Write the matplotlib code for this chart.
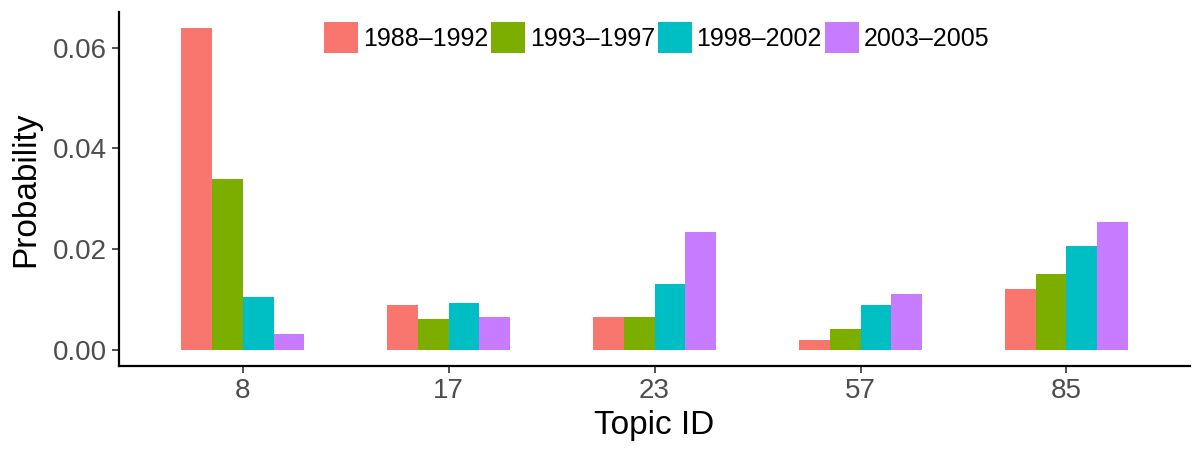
import numpy as np
import matplotlib
matplotlib.use('Agg')
import matplotlib.pyplot as plt

plt.rcParams['font.family'] = ['Liberation Sans', 'DejaVu Sans']

topics = ['8', '17', '23', '57', '85']
periods = ['1988–1992', '1993–1997', '1998–2002', '2003–2005']
colors = ['#F8766D', '#7CAE00', '#00BFC4', '#C77CFF']

p_1988 = [0.0639, 0.0089, 0.0066, 0.0019, 0.0120]
p_1993 = [0.0340, 0.0061, 0.0065, 0.0042, 0.0150]
p_1998 = [0.0106, 0.0094, 0.0131, 0.0089, 0.0206]
p_2003 = [0.0032, 0.0066, 0.0234, 0.0110, 0.0253]
series = [p_1988, p_1993, p_1998, p_2003]

fig = plt.figure(figsize=(12, 4.5), dpi=100)
ax = fig.add_axes([0.0992, 0.1867, 0.8925, 0.7866])

x = np.arange(1, len(topics) + 1)
w = 0.15
for i, (vals, lab, c) in enumerate(zip(series, periods, colors)):
    ax.bar(x + (i - 1.5) * w, vals, width=w, color=c, label=lab, linewidth=0)

ax.set_xlim(0.4, 5.6)
ax.set_ylim(-0.0032, 0.0671)
ax.set_xticks(x)
ax.set_xticklabels(topics)
ax.set_yticks([0, 0.02, 0.04, 0.06])
ax.set_yticklabels(['0.00', '0.02', '0.04', '0.06'])

for s in ['top', 'right']:
    ax.spines[s].set_visible(False)
for s in ['left', 'bottom']:
    ax.spines[s].set_linewidth(1.6)
    ax.spines[s].set_color('black')
ax.tick_params(axis='both', labelsize=20, labelcolor='#4D4D4D', color='#333333',
               length=5, width=1.2, pad=4)

ax.set_xlabel('Topic ID', fontsize=24, labelpad=4)
ax.set_ylabel('Probability', fontsize=24, labelpad=8)

ax.legend(loc='upper center', bbox_to_anchor=(0.502, 1.0), ncol=4, frameon=False,
          fontsize=18, handlelength=1.35, handleheight=1.55, handletextpad=0.2,
          columnspacing=0.12, borderaxespad=0.0)

fig.savefig('out.png', dpi=100)
